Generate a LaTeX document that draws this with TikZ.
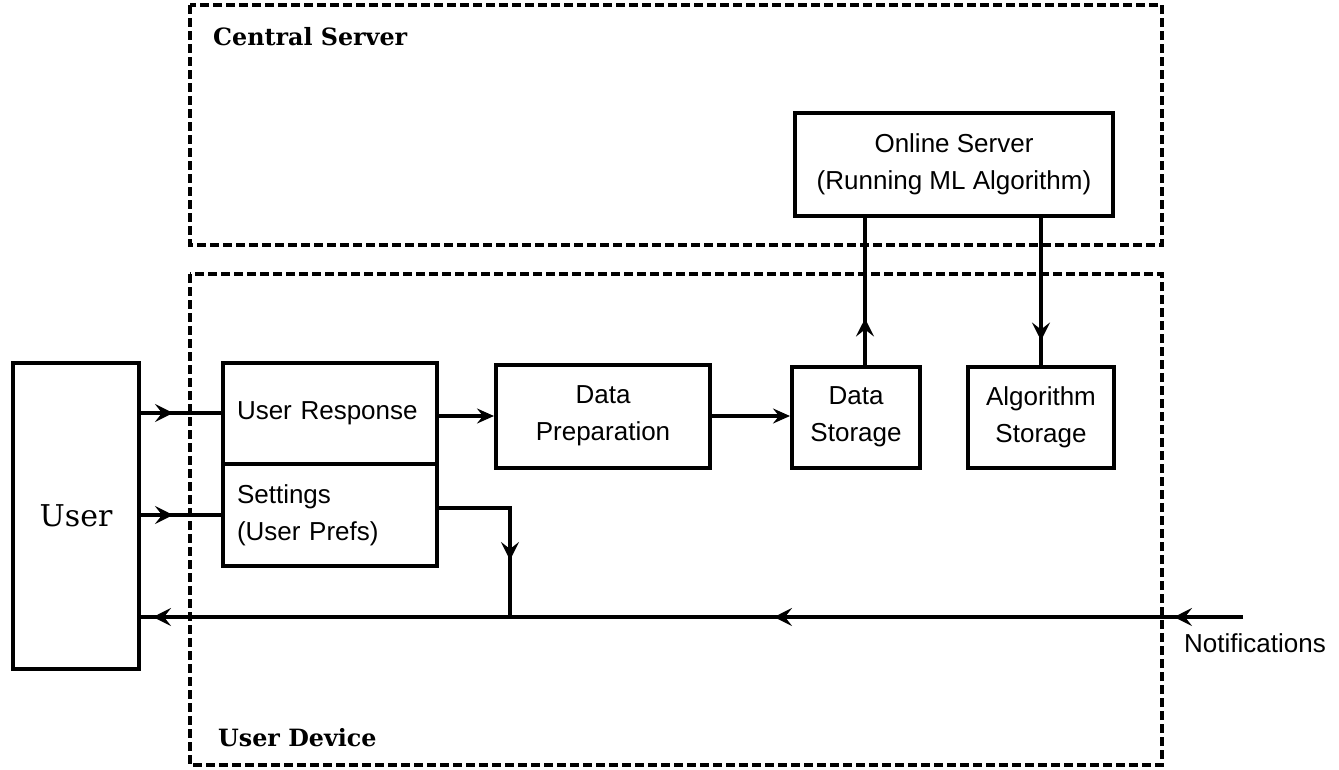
\documentclass[tikz,border=0pt]{standalone}
\usepackage{fontspec}
\setmainfont{Liberation Sans}
\newfontfamily\slabfont{DejaVu Serif}
\usetikzlibrary{arrows.meta,decorations.markings}
\tikzset{
  box/.style={draw,line width=4pt,rectangle,inner sep=0pt,font=\fontsize{26}{37}\selectfont,align=center},
  lbox/.style={box,align=left,inner xsep=14pt},
  region/.style={draw,line width=3.5pt,dash pattern=on 9pt off 4pt},
  conn/.style={line width=4pt},
  tip/.style={-{Stealth[length=17pt,width=15pt,inset=6pt]}},
  midarrow/.style={postaction={decorate,decoration={markings,mark=at position #1 with {\arrow{Stealth[length=18pt,width=18pt,inset=7pt]}}}}},
  lbl/.style={font=\slabfont\bfseries\fontsize{23.8}{28}\selectfont,anchor=base west,inner sep=0pt},
}
\begin{document}
\begin{tikzpicture}[x=1pt,y=-1pt]
\useasboundingbox (0,0) rectangle (1339,769);
% regions
\draw[region] (190,5) rectangle (1162,245);
\draw[region] (190,274) rectangle (1162,765);
\node[lbl] (cs) at (213,45) {Central Server};
\node[lbl] (ud) at (218,746) {User Device};
% nodes
\node[box,minimum width=318pt,minimum height=103pt] (os) at (954,164) {Online Server\\(Running ML Algorithm)};
\node[box,minimum width=126pt,minimum height=306pt,font=\slabfont\fontsize{30}{36}\selectfont] (user) at (76,516) {User};
\node[lbox,minimum height=101pt,text width=186pt] (ur) at (330,413) {User Response};
\node[lbox,minimum height=102pt,text width=186pt] (set) at (330,515) {Settings\\(User Prefs)};
\node[box,minimum width=214pt,minimum height=103pt] (dp) at (603,416) {Data\\Preparation};
\node[box,minimum width=128pt,minimum height=101pt] (ds) at (856,417) {Data\\Storage};
\node[box,minimum width=146pt,minimum height=101pt] (as) at (1041,417) {Algorithm\\Storage};
\node[font=\fontsize{26}{30}\selectfont,anchor=west,inner sep=0pt] (notl) at (1184,643) {Notifications};
% coordinates
\coordinate (notif) at (1243,617);
\coordinate (sc) at (510,508);
\coordinate (jn) at (510,617);
% connectors
\draw[conn,midarrow=32pt] (user.east |- ur.west) -- (ur.west);
\draw[conn,midarrow=32pt] (user.east |- set.west) -- (set.west);
\draw[conn,midarrow=69pt,midarrow=469pt,midarrow=1090pt] (notif) -- (user.east |- notif);
\draw[conn,midarrow=123pt] (set.east |- sc) -- (sc) -- (jn);
\draw[conn,tip] ([yshift=-3pt]ur.east) -- ([yshift=-3pt]ur.east -| dp.west);
\draw[conn,tip] (dp.east) -- (dp.east -| ds.west);
\draw[conn,midarrow=46pt] ([xshift=9pt]ds.north) -- ([xshift=9pt]ds.north |- os.south);
\draw[conn,midarrow=123pt] (as.north |- os.south) -- (as.north);
\end{tikzpicture}
\end{document}
